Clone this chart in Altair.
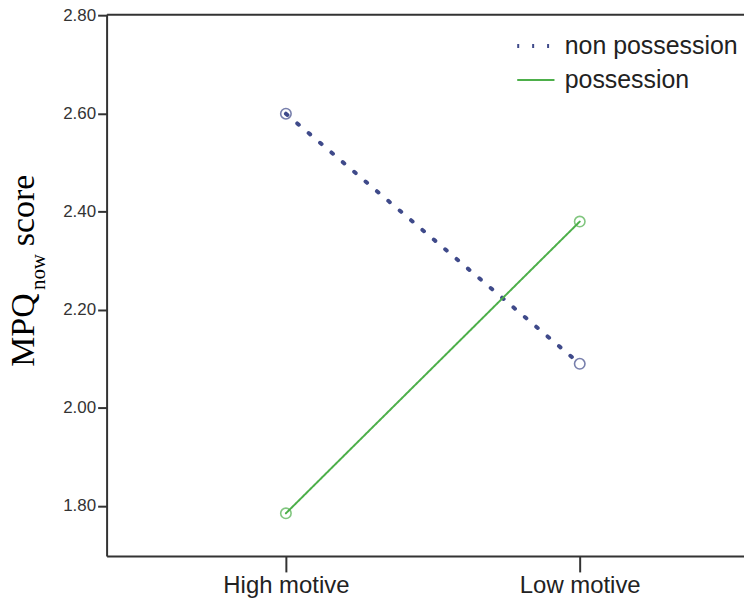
import altair as alt
import pandas as pd

# ---- data ----
categories = ["High motive", "Low motive"]
series = ["non possession", "possession"]
non_possession = [2.60, 2.09]
possession = [1.785, 2.38]
y_ticks = [1.80, 2.00, 2.20, 2.40, 2.60, 2.80]

rows = []
for i, c in enumerate(categories):
    rows.append({"cat": c, "idx": i, "series": series[0], "value": non_possession[i]})
    rows.append({"cat": c, "idx": i, "series": series[1], "value": possession[i]})
df = pd.DataFrame(rows)

label_expr = " : ".join(
    [f"datum.value == {i} ? '{c}'" for i, c in enumerate(categories)]
) + " : ''"

colors = ["#3f4a8a", "#4daf4a"]
SANS = "Liberation Sans"
SERIF = "Liberation Serif"

x_scale = alt.Scale(domain=[-0.6102, 1.559], nice=False, zero=False)
y_scale = alt.Scale(domain=[1.698, 2.803], nice=False, zero=False)

x_axis = alt.Axis(
    values=list(range(len(categories))), labelExpr=label_expr, title=None,
    grid=False, tickSize=16, tickWidth=2, tickColor="#333", domainColor="#333",
    domainWidth=2, labelFont=SANS, labelFontSize=24, labelColor="#222",
    labelPadding=2, labelAngle=0, labelFlush=False, labelOverlap=False,
)
y_axis = alt.Axis(
    values=y_ticks, format=".2f", title=None, grid=False, tickSize=9,
    tickWidth=2, tickColor="#333", domainColor="#333", domainWidth=2,
    labelFont=SANS, labelFontSize=17, labelColor="#333", labelPadding=2,
)

base = alt.Chart(df)

lines = base.mark_line(strokeCap="round").encode(
    x=alt.X("idx:Q", scale=x_scale, axis=x_axis),
    y=alt.Y("value:Q", scale=y_scale, axis=y_axis),
    color=alt.Color(
        "series:N", scale=alt.Scale(domain=series, range=colors),
        legend=alt.Legend(
            title=None, orient="none", legendX=410, legendY=11,
            symbolType="stroke", symbolSize=1400,
            labelFont=SANS, labelFontSize=25, labelColor="#222",
            labelOffset=8, labelLimit=0, rowPadding=1, padding=0,
        ),
    ),
    strokeDash=alt.StrokeDash(
        "series:N", scale=alt.Scale(domain=series, range=[[2, 13], [1, 0]]),
    ),
    strokeWidth=alt.StrokeWidth(
        "series:N", scale=alt.Scale(domain=series, range=[4, 2]),
    ),
)

points = base.mark_point(shape="circle", filled=False, size=110, strokeWidth=1.6).encode(
    x=alt.X("idx:Q", scale=x_scale, axis=None),
    y=alt.Y("value:Q", scale=y_scale, axis=None),
    color=alt.Color("series:N", scale=alt.Scale(domain=series, range=colors), legend=None),
)

top_frame = base.mark_point(opacity=0).encode(
    x=alt.X("idx:Q", scale=x_scale, axis=alt.Axis(
        orient="top", labels=False, ticks=False, title=None, grid=False,
        domainColor="#333", domainWidth=2)),
    y=alt.Y("value:Q", scale=y_scale, axis=None),
)

def title_part(txt, size, xpos, ypos):
    return alt.Chart(pd.DataFrame({"t": [txt]})).mark_text(
        angle=270, align="left", baseline="alphabetic", font=SERIF,
        fontSize=size, color="#000",
    ).encode(text="t:N", x=alt.value(xpos), y=alt.value(ypos))

t1 = title_part("MPQ", 34, -73, 354)
t2 = title_part("now", 21, -62, 277)
t3 = title_part("score", 34, -73, 233)

chart = alt.layer(top_frame, lines, points, t1, t2, t3).resolve_axis(
    x="independent", y="independent"
).properties(
    width=640, height=544,
    autosize=alt.AutoSizeParams(type="none"),
    padding={"left": 99, "top": 5, "right": 0, "bottom": 45},
    background="white",
).configure_view(stroke=None)

chart.save("out.html", embed_options={"renderer": "svg", "actions": False})
